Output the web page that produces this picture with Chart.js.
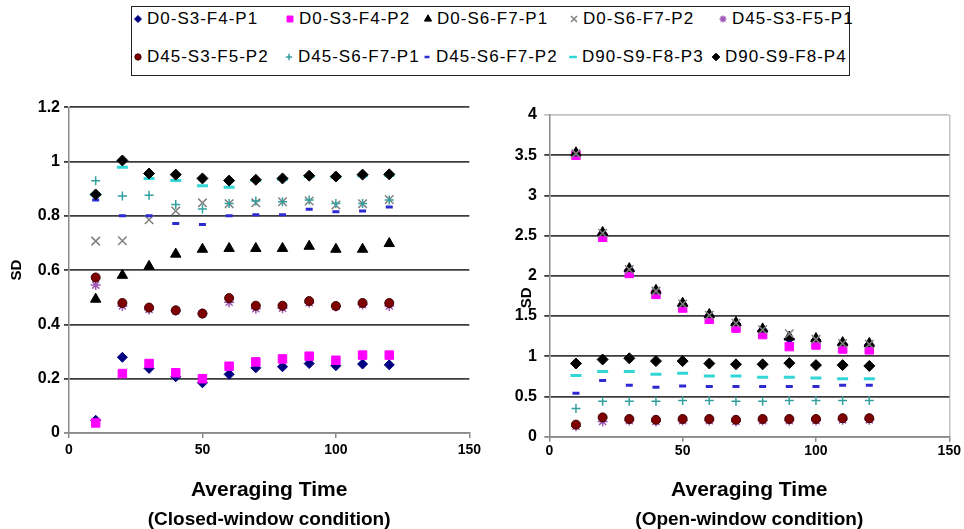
<!DOCTYPE html>
<html>
<head>
<meta charset="utf-8">
<script src="https://cdn.jsdelivr.net/npm/chart.js@4.4.0/dist/chart.umd.min.js"></script>
<style>
    html, body { margin: 0; padding: 0; background: #fff; width: 964px; height: 529px; overflow: hidden; position: relative; font-family: "Liberation Sans", Arial, sans-serif; }
    #legend { position: absolute; left: 131px; top: 6px; width: 719px; height: 70px; border: 1.5px solid #222; box-sizing: border-box; }
    .lg-mark { position: absolute; }
    .lg-text { position: absolute; font-size: 17px; letter-spacing: 1px; color: #000; white-space: nowrap; line-height: 20px; }
    #closedChart { position: absolute; left: 0; top: 90px; }
    #openChart { position: absolute; left: 505px; top: 90px; }
</style>
</head>
<body>
<div id="legend"></div>
<canvas id="closedChart" width="485" height="439"></canvas>
<canvas id="openChart" width="459" height="439"></canvas>

<script>
// averaging times (x values), same for both panels
const times = [10, 20, 30, 40, 50, 60, 70, 80, 90, 100, 110, 120];

const seriesNames = ['D0-S3-F4-P1', 'D0-S3-F4-P2', 'D0-S6-F7-P1', 'D0-S6-F7-P2', 'D45-S3-F5-P1',
                     'D45-S3-F5-P2', 'D45-S6-F7-P1', 'D45-S6-F7-P2', 'D90-S9-F8-P3', 'D90-S9-F8-P4'];

// closed-window condition
const closedD0S3F4P1  = [0.047, 0.279, 0.238, 0.207, 0.185, 0.216, 0.240, 0.244, 0.256, 0.248, 0.254, 0.251];
const closedD0S3F4P2  = [0.037, 0.219, 0.256, 0.222, 0.200, 0.246, 0.262, 0.273, 0.283, 0.268, 0.287, 0.287];
const closedD0S6F7P1  = [0.493, 0.581, 0.614, 0.659, 0.677, 0.680, 0.680, 0.680, 0.688, 0.677, 0.677, 0.698];
const closedD0S6F7P2  = [0.707, 0.708, 0.786, 0.818, 0.848, 0.845, 0.848, 0.852, 0.855, 0.840, 0.845, 0.860];
const closedD45S3F5P1 = [0.545, 0.468, 0.455, 0.450, 0.440, 0.482, 0.458, 0.460, 0.480, 0.466, 0.473, 0.468];
const closedD45S3F5P2 = [0.573, 0.479, 0.462, 0.452, 0.440, 0.497, 0.469, 0.469, 0.486, 0.468, 0.479, 0.479];
const closedD45S6F7P1 = [0.929, 0.873, 0.876, 0.842, 0.825, 0.846, 0.855, 0.852, 0.858, 0.846, 0.846, 0.858];
const closedD45S6F7P2 = [0.858, 0.800, 0.800, 0.772, 0.768, 0.800, 0.804, 0.804, 0.824, 0.815, 0.818, 0.833];
const closedD90S9F8P3 = [0.878, 0.979, 0.938, 0.930, 0.911, 0.905, 0.930, 0.935, 0.945, 0.942, 0.948, 0.950];
const closedD90S9F8P4 = [0.879, 1.004, 0.956, 0.952, 0.938, 0.930, 0.933, 0.938, 0.948, 0.945, 0.952, 0.953];

// open-window condition
const openD0S3F4P1  = [3.51, 2.51, 2.07, 1.80, 1.63, 1.50, 1.40, 1.32, 1.22, 1.20, 1.15, 1.14];
const openD0S3F4P2  = [3.50, 2.48, 2.03, 1.77, 1.60, 1.46, 1.35, 1.27, 1.12, 1.14, 1.09, 1.08];
const openD0S6F7P1  = [3.53, 2.54, 2.09, 1.82, 1.66, 1.52, 1.42, 1.34, 1.24, 1.22, 1.17, 1.16];
const openD0S6F7P2  = [3.52, 2.53, 2.08, 1.81, 1.65, 1.51, 1.41, 1.33, 1.28, 1.21, 1.16, 1.15];
const openD45S3F5P1 = [0.13, 0.19, 0.20, 0.19, 0.20, 0.20, 0.19, 0.20, 0.20, 0.20, 0.21, 0.21];
const openD45S3F5P2 = [0.15, 0.24, 0.22, 0.21, 0.22, 0.22, 0.21, 0.22, 0.22, 0.22, 0.23, 0.23];
const openD45S6F7P1 = [0.35, 0.44, 0.44, 0.44, 0.45, 0.45, 0.44, 0.44, 0.45, 0.45, 0.45, 0.45];
const openD45S6F7P2 = [0.54, 0.70, 0.64, 0.615, 0.63, 0.625, 0.625, 0.625, 0.625, 0.625, 0.64, 0.64];
const openD90S9F8P3 = [0.76, 0.81, 0.81, 0.776, 0.79, 0.755, 0.755, 0.74, 0.74, 0.73, 0.72, 0.72];
const openD90S9F8P4 = [0.91, 0.96, 0.975, 0.94, 0.94, 0.91, 0.90, 0.90, 0.915, 0.89, 0.89, 0.88];

// tick values
const xTicks = [0, 50, 100, 150];
const closedYTicks = [0, 0.2, 0.4, 0.6, 0.8, 1, 1.2];
const openYTicks = [0, 0.5, 1, 1.5, 2, 2.5, 3, 3.5, 4];

const closedSeries = [closedD0S3F4P1, closedD0S3F4P2, closedD0S6F7P1, closedD0S6F7P2, closedD45S3F5P1,
                      closedD45S3F5P2, closedD45S6F7P1, closedD45S6F7P2, closedD90S9F8P3, closedD90S9F8P4];
const openSeries = [openD0S3F4P1, openD0S3F4P2, openD0S6F7P1, openD0S6F7P2, openD45S3F5P1,
                    openD45S3F5P2, openD45S6F7P1, openD45S6F7P2, openD90S9F8P3, openD90S9F8P4];

// marker look per series (Excel-like)
const markerStyles = [
    { pointStyle: 'rectRot',  radius: 5,   fill: '#000080', stroke: '#000080', width: 1 },
    { pointStyle: 'rect',     radius: 6,   fill: '#ff00ff', stroke: '#ff00ff', width: 1 },
    { pointStyle: 'triangle', radius: 6,   fill: '#000000', stroke: '#000000', width: 1 },
    { pointStyle: 'crossRot', radius: 6,   fill: '#808080', stroke: '#808080', width: 1.5 },
    { pointStyle: 'star',     radius: 5,   fill: '#a05ab4', stroke: '#a05ab4', width: 1.5 },
    { pointStyle: 'circle',   radius: 4.5, fill: '#800000', stroke: '#3a0000', width: 1 },
    { pointStyle: 'cross',    radius: 4.5, fill: '#33a0a0', stroke: '#33a0a0', width: 1.5 },
    { pointStyle: 'line',     radius: 3.5, fill: '#2b2bd1', stroke: '#2b2bd1', width: 3 },
    { pointStyle: 'line',     radius: 5.5, fill: '#33d6d6', stroke: '#33d6d6', width: 3 },
    { pointStyle: 'rectRot',  radius: 5.5, fill: '#000000', stroke: '#000000', width: 1 }
];

const FONT = '"Liberation Sans", Arial, sans-serif';

// draws the rotated "SD" where the axis title sits in the open-window panel (a bit below centre)
const sdLabel = {
    id: 'sdLabel',
    afterDraw(chart, args, opts) {
        if (!opts.display) return;
        const { ctx, chartArea } = chart;
        ctx.save();
        ctx.translate(chartArea.left - opts.dx, (chartArea.top + chartArea.bottom) / 2 + opts.dy);
        ctx.rotate(-Math.PI / 2);
        ctx.font = 'bold 15px ' + FONT;
        ctx.fillStyle = '#000';
        ctx.textAlign = 'center';
        ctx.textBaseline = 'middle';
        ctx.fillText('SD', 0, 0);
        ctx.restore();
    }
};

function buildDatasets(seriesList) {
    return seriesList.map((values, i) => {
        const st = markerStyles[i];
        return {
            label: seriesNames[i],
            data: times.map((t, k) => ({ x: t, y: values[k] })),
            pointStyle: st.pointStyle,
            pointRadius: st.radius,
            pointBackgroundColor: st.fill,
            pointBorderColor: st.stroke,
            pointBorderWidth: st.width,
            showLine: false,
            order: -i // later series on top, like Excel
        };
    });
}

function buildChart(canvasId, seriesList, yTicks, cfg) {
    const yMax = yTicks[yTicks.length - 1];
    return new Chart(document.getElementById(canvasId), {
        type: 'scatter',
        data: { datasets: buildDatasets(seriesList) },
        options: {
            responsive: false,
            animation: false,
            events: [],
            layout: { padding: cfg.padding },
            plugins: {
                legend: { display: false },
                tooltip: { enabled: false },
                title: {
                    display: true, position: 'bottom', fullSize: false, text: cfg.subtitle, color: '#000',
                    font: { family: FONT, size: 19, weight: 'bold', lineHeight: 1 },
                    padding: { top: 0, bottom: 0 }
                },
                sdLabel: { display: cfg.sdPlugin, dx: 22.3, dy: 22 }
            },
            scales: {
                x: {
                    type: 'linear', min: 0, max: 150,
                    afterBuildTicks: s => { s.ticks = xTicks.map(v => ({ value: v })); },
                    afterFit: s => { s.height = cfg.xHeight; },
                    grid: {
                        drawOnChartArea: cfg.rightBorder,
                        color: c => (c.tick && c.tick.value === 150 ? '#c4c4c4' : 'rgba(0,0,0,0)'),
                        tickLength: 5, tickColor: '#8a8a8a', lineWidth: 1.5
                    },
                    border: { color: '#8a8a8a', width: 1.5 },
                    ticks: { font: { family: FONT, size: 14, weight: 'bold' }, color: '#000', padding: cfg.xPad, maxRotation: 0, callback: v => String(v) },
                    title: {
                        display: true, text: 'Averaging Time', color: '#000',
                        font: { family: FONT, size: 21, weight: 'bold' },
                        padding: { top: 0, bottom: 7.4 }
                    }
                },
                y: {
                    min: 0, max: yMax,
                    afterBuildTicks: s => { s.ticks = yTicks.map(v => ({ value: v })); },
                    afterFit: s => { s.width = cfg.yWidth; },
                    grid: {
                        color: c => {
                            const v = c.tick ? c.tick.value : null;
                            if (v === 0) return '#8a8a8a';
                            if (v === yMax && cfg.lightTop) return '#c4c4c4';
                            return '#3c3c3c';
                        },
                        lineWidth: 1.8, tickLength: 5
                    },
                    border: { color: '#8a8a8a', width: 1.5 },
                    ticks: { font: { family: FONT, size: 16, weight: 'bold' }, color: '#000', padding: cfg.yPad, callback: v => String(v) },
                    title: {
                        display: !cfg.sdPlugin, text: 'SD', color: '#000',
                        font: { family: FONT, size: 15, weight: 'bold' },
                        padding: { top: cfg.titlePad, bottom: 0 }
                    }
                }
            }
        },
        plugins: [sdLabel]
    });
}

buildChart('closedChart', closedSeries, closedYTicks, {
    padding: { top: 17.3, right: 12, bottom: 0, left: 0 },
    xHeight: 77, yWidth: 69, xPad: 4, yPad: 4, titlePad: 8,
    lightTop: false, rightBorder: false, sdPlugin: false,
    subtitle: '(Closed-window condition)'
});

buildChart('openChart', openSeries, openYTicks, {
    padding: { top: 25, right: 14.7, bottom: 0, left: 0 },
    xHeight: 73.3, yWidth: 44.3, xPad: 1.3, yPad: 7.3, titlePad: 13,
    lightTop: true, rightBorder: true, sdPlugin: true,
    subtitle: '(Open-window condition)'
});

// shared legend box across both panels
const legendRows = [[146, 298, 436, 582, 731], [146, 297, 435, 581, 724]];
const legendEl = document.getElementById('legend');
seriesNames.forEach((name, i) => {
    const row = Math.floor(i / 5), col = i % 5;
    const tx = legendRows[row][col] - 131;
    const ty = row === 0 ? 12 : 50;
    const st = markerStyles[i];

    const mark = document.createElement('canvas');
    mark.width = 12; mark.height = 12;
    mark.className = 'lg-mark';
    mark.style.left = (tx - 15) + 'px';
    mark.style.top = (ty - 6) + 'px';
    const ctx = mark.getContext('2d');
    ctx.fillStyle = st.fill;
    ctx.strokeStyle = st.stroke;
    ctx.lineWidth = st.pointStyle === 'line' ? 2.5 : st.width;
    if (Chart.helpers && Chart.helpers.drawPoint) {
        Chart.helpers.drawPoint(ctx, { pointStyle: st.pointStyle, radius: st.radius * 0.7, borderWidth: ctx.lineWidth, rotation: 0 }, 6, 6);
    }
    legendEl.appendChild(mark);

    const label = document.createElement('div');
    label.className = 'lg-text';
    label.style.left = tx + 'px';
    label.style.top = (ty - 10) + 'px';
    label.textContent = name;
    legendEl.appendChild(label);
});
</script>
</body>
</html>
